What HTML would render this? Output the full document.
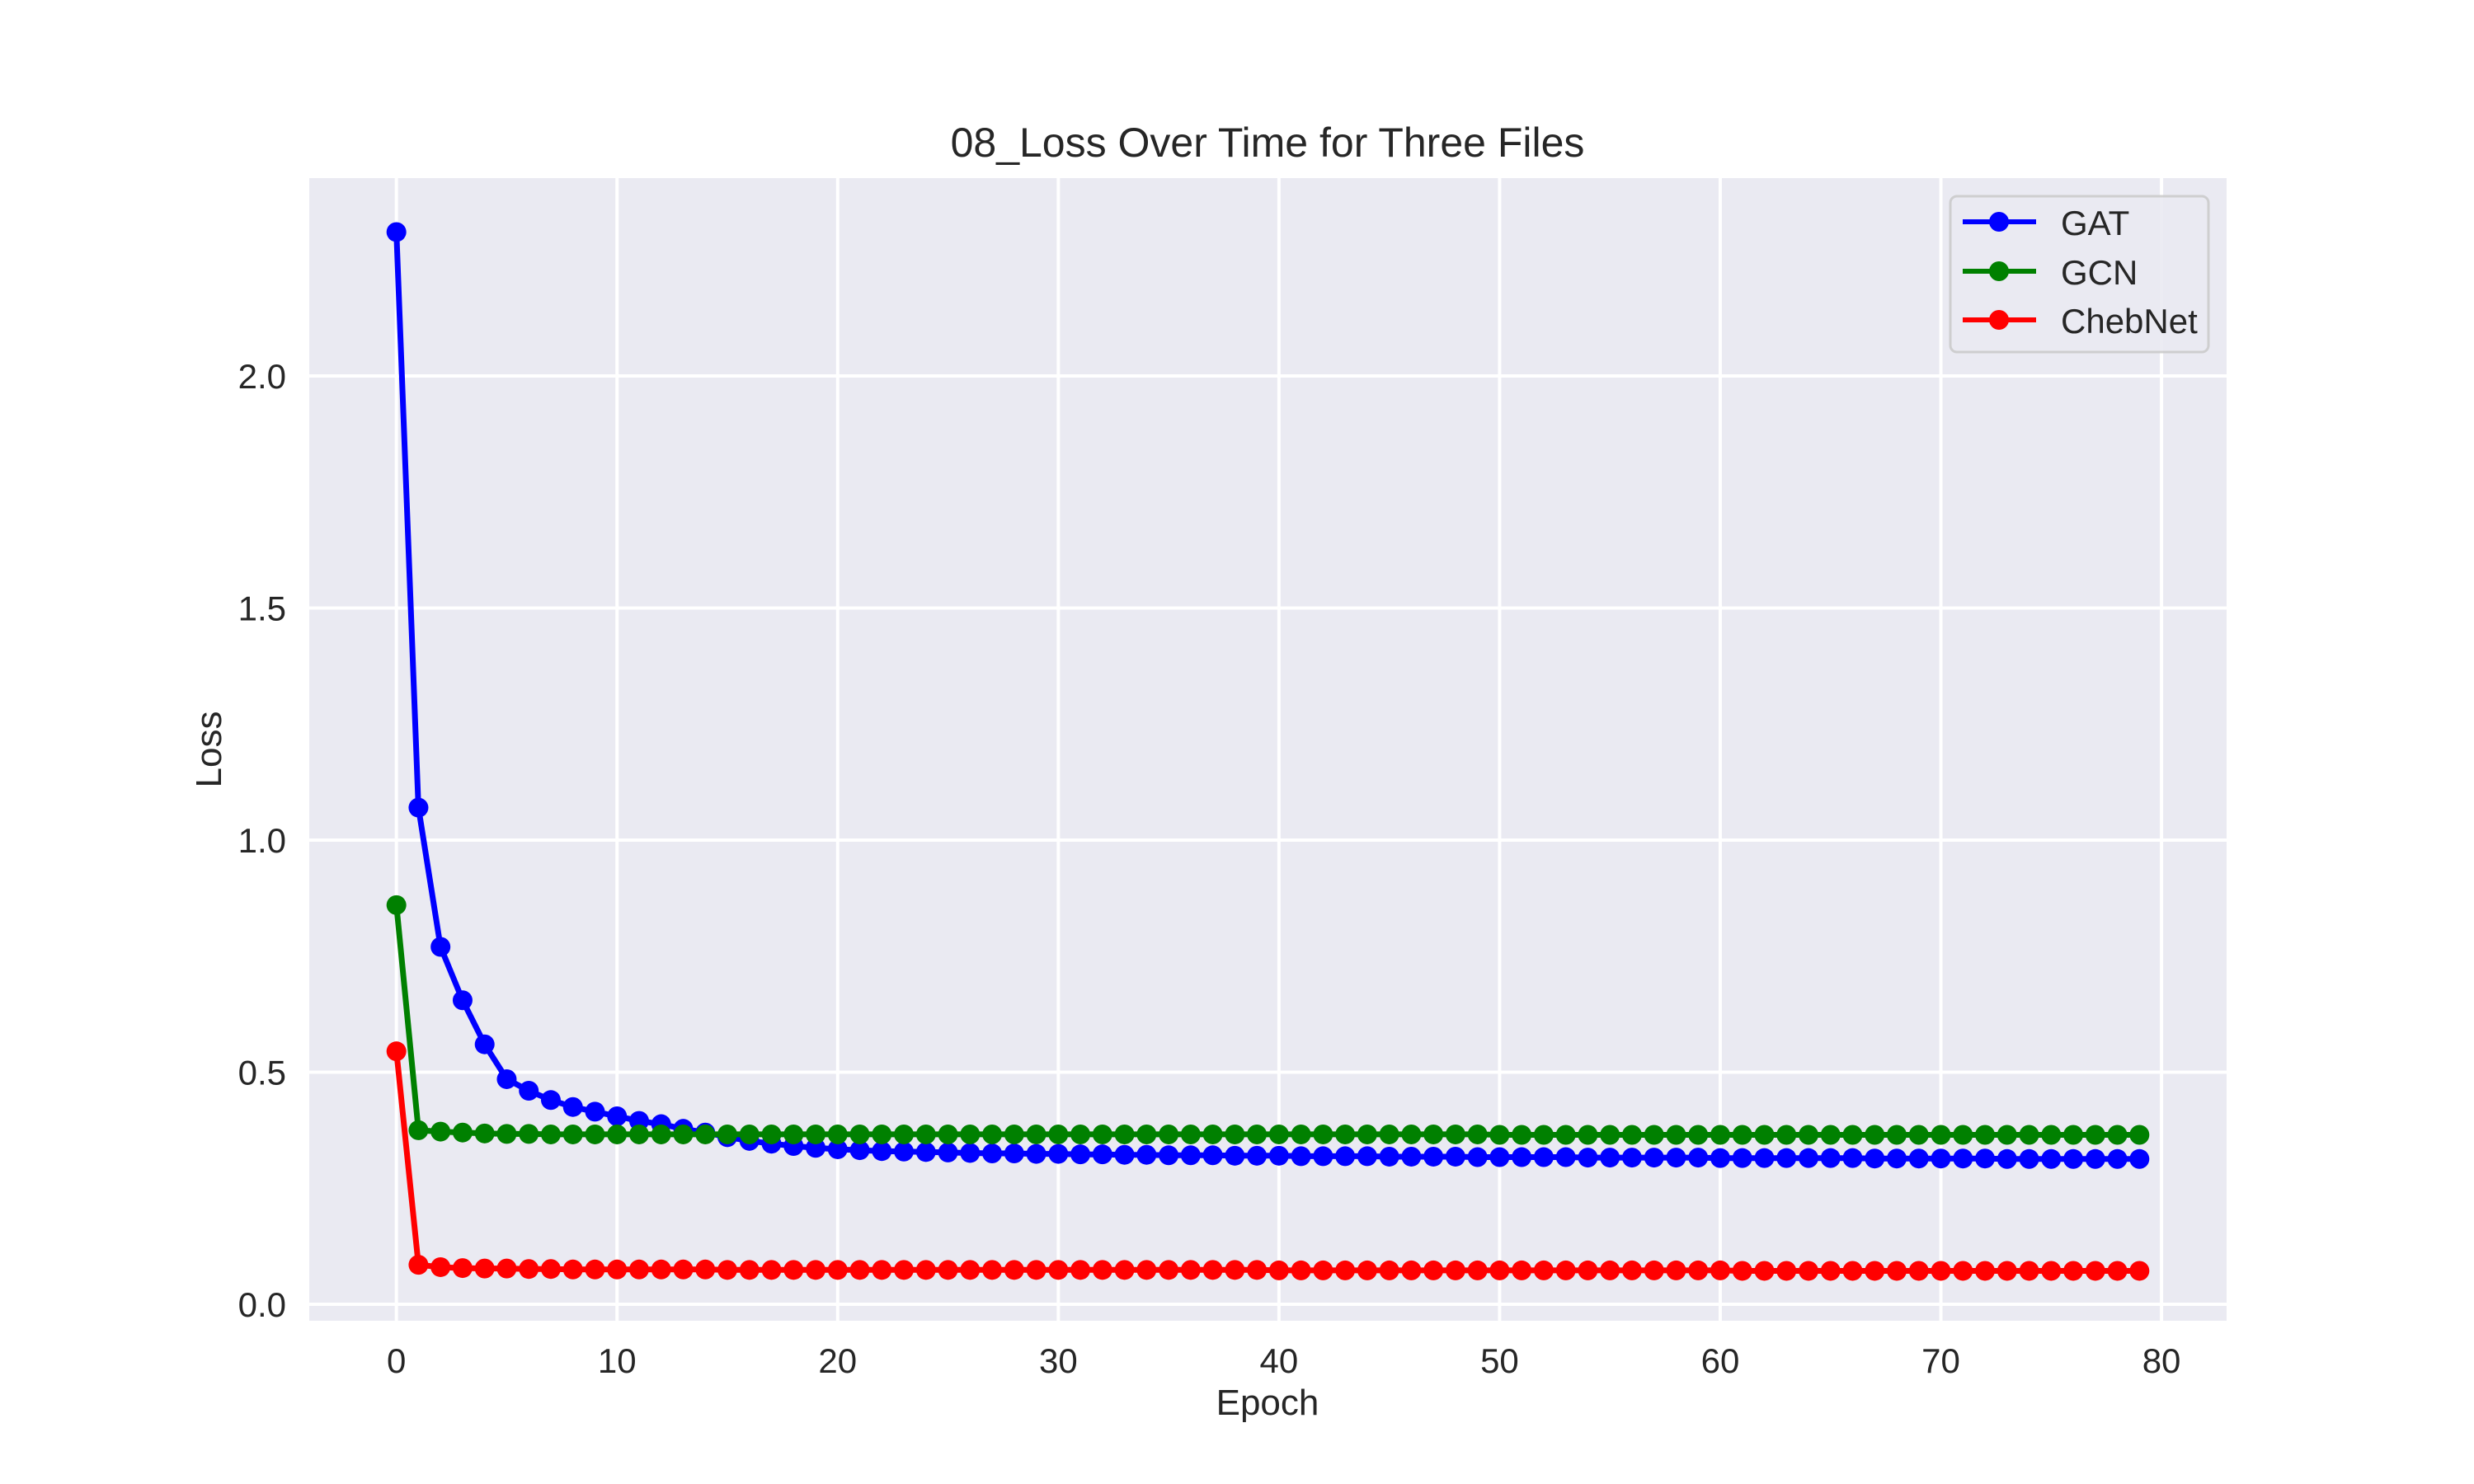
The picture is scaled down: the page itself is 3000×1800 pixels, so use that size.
<!DOCTYPE html>
<html><head><meta charset="utf-8"><style>
html,body{margin:0;padding:0;background:#fff;}
svg{display:block;font-family:"Liberation Sans",Arial,sans-serif;}
</style></head><body>
<svg id="chart" width="3000" height="1800" viewBox="0 0 3000 1800" xmlns="http://www.w3.org/2000/svg">
<rect x="0" y="0" width="3000" height="1800" fill="#ffffff"/>
<rect x="375" y="216" width="2325" height="1386" fill="#eaeaf2"/>
<g id="grid"></g>
<g id="ticks"></g>
<g id="series"></g>
<text x="1537" y="190" text-anchor="middle" font-size="50" fill="#262626">08_Loss Over Time for Three Files</text>
<text x="1537" y="1716" text-anchor="middle" font-size="44" fill="#262626">Epoch</text>
<text x="268" y="909" text-anchor="middle" font-size="44" fill="#262626" transform="rotate(-90 268 909)">Loss</text>
<g>
<rect x="2365" y="238" width="313" height="189" rx="8" fill="#eaeaf2" stroke="#cccccc" stroke-width="3" opacity="0.9"/>
<g><line x1="2380" y1="269" x2="2469" y2="269" stroke="#0000ff" stroke-width="6"/><circle cx="2424" cy="269" r="12" fill="#0000ff"/><text x="2499" y="285" font-size="42" fill="#262626">GAT</text></g>
<g><line x1="2380" y1="329" x2="2469" y2="329" stroke="#008000" stroke-width="6"/><circle cx="2424" cy="329" r="12" fill="#008000"/><text x="2499" y="345" font-size="42" fill="#262626">GCN</text></g>
<g><line x1="2380" y1="388" x2="2469" y2="388" stroke="#ff0000" stroke-width="6"/><circle cx="2424" cy="388" r="12" fill="#ff0000"/><text x="2499" y="404" font-size="42" fill="#262626">ChebNet</text></g>
</g>
</svg>
<script>
const gatLoss=[2.31,1.07,0.77,0.655,0.56,0.485,0.46,0.44,0.425,0.415,
0.405,0.395,0.388,0.378,0.37,0.36,0.352,0.346,0.341,0.337,
0.334,0.332,0.330,0.329,0.328,0.327,0.326,0.325,0.325,0.324,
0.324,0.323,0.323,0.322,0.322,0.321,0.321,0.321,0.320,0.320,
0.320,0.319,0.319,0.319,0.319,0.318,0.318,0.318,0.318,0.317,
0.317,0.317,0.317,0.317,0.316,0.316,0.316,0.316,0.316,0.316,
0.315,0.315,0.315,0.315,0.315,0.315,0.315,0.314,0.314,0.314,
0.314,0.314,0.314,0.313,0.313,0.313,0.313,0.313,0.313,0.313];
const gcnLoss=[0.86,0.375,0.372,0.370,0.368,0.367,0.367,0.366,0.366,0.366,
0.366,0.366,0.366,0.366,0.366,0.366,0.366,0.366,0.366,0.366,
0.366,0.366,0.366,0.366,0.366,0.366,0.366,0.366,0.366,0.366,
0.366,0.366,0.366,0.366,0.366,0.366,0.366,0.366,0.366,0.366,
0.366,0.366,0.366,0.366,0.366,0.366,0.366,0.366,0.366,0.366,
0.365,0.365,0.365,0.365,0.365,0.365,0.365,0.365,0.365,0.365,
0.365,0.365,0.365,0.365,0.365,0.365,0.365,0.365,0.365,0.365,
0.365,0.365,0.365,0.365,0.365,0.365,0.365,0.365,0.365,0.365];
const chebLoss=[0.545,0.085,0.080,0.078,0.077,0.077,0.076,0.076,0.075,0.075,
0.075,0.075,0.075,0.075,0.075,0.074,0.074,0.074,0.074,0.074,
0.074,0.074,0.074,0.074,0.074,0.074,0.074,0.074,0.074,0.074,
0.074,0.074,0.074,0.074,0.074,0.074,0.074,0.074,0.074,0.074,
0.073,0.073,0.073,0.073,0.073,0.073,0.073,0.073,0.073,0.073,
0.073,0.073,0.073,0.073,0.073,0.073,0.073,0.073,0.073,0.073,
0.073,0.072,0.072,0.072,0.072,0.072,0.072,0.072,0.072,0.072,
0.072,0.072,0.072,0.072,0.072,0.072,0.072,0.072,0.072,0.072];
const xTicks=[0,10,20,30,40,50,60,70,80];
const yTicks=[0.0,0.5,1.0,1.5,2.0];
const yTickLabels=["0.0","0.5","1.0","1.5","2.0"];

const NS="http://www.w3.org/2000/svg";
const L=375,R=2700,T=216,B=1602;
const xMin=-3.95,xMax=82.95;
const xs=v=>L+(v-xMin)/(xMax-xMin)*(R-L);
const y0=1582,yPer=563;
const ys=v=>y0-v*yPer;
function mk(tag,attrs,parent){const e=document.createElementNS(NS,tag);for(const k in attrs)e.setAttribute(k,attrs[k]);parent.appendChild(e);return e;}
const grid=document.getElementById('grid'),ticks=document.getElementById('ticks'),series=document.getElementById('series');
xTicks.forEach(t=>{
  const g=mk('line',{x1:xs(t),x2:xs(t),y1:T,y2:B,stroke:'#ffffff','stroke-width':4},grid);
  
  
  const tx=mk('text',{x:xs(t),y:1665,'text-anchor':'middle','font-size':42,fill:'#262626'},ticks);
  tx.textContent=String(t);
  
  
});
yTicks.forEach((t,i)=>{
  const g=mk('line',{x1:L,x2:R,y1:ys(t),y2:ys(t),stroke:'#ffffff','stroke-width':4},grid);
  
  
  const tx=mk('text',{x:347,y:ys(t)+15,'text-anchor':'end','font-size':42,fill:'#262626'},ticks);
  tx.textContent=yTickLabels[i];
  
  
});
function draw(data,color,name){
  const g=mk('g',{},series);
  
  
  const pts=data.map((v,i)=>xs(i).toFixed(1)+','+ys(v).toFixed(1)).join(' ');
  const pl=mk('polyline',{points:pts,fill:'none',stroke:color,'stroke-width':7,'stroke-linejoin':'round'},g);
  
  
  data.forEach((v,i)=>{
    const c=mk('circle',{cx:xs(i),cy:ys(v),r:12,fill:color},g);
    
    
  });
}
draw(gatLoss,'#0000ff','gat');
draw(gcnLoss,'#008000','gcn');
draw(chebLoss,'#ff0000','chebnet');
</script>
</body></html>
